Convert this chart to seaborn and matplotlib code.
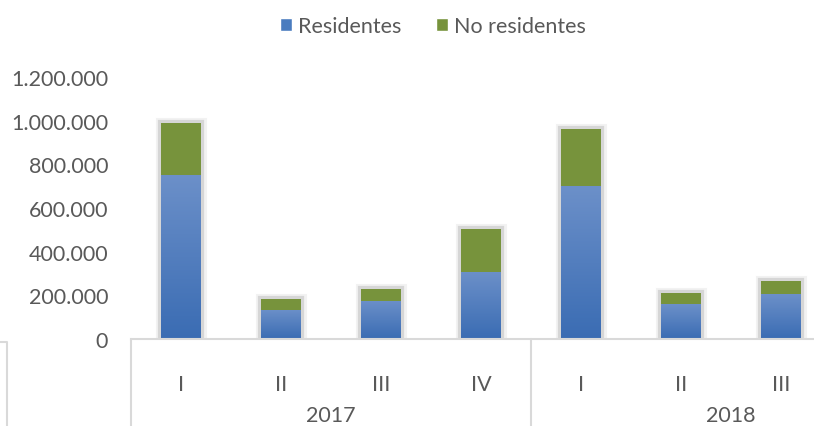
import numpy as np
import pandas as pd
import matplotlib
matplotlib.use("Agg")
import matplotlib.pyplot as plt
import matplotlib.patheffects as pe
from matplotlib.lines import Line2D
from matplotlib.patches import Patch
import matplotlib.transforms as mtransforms
import seaborn as sns

# Quarterly visitors, split by residence
years = ["2017", "2017", "2017", "2017", "2018", "2018", "2018"]
quarters = ["I", "II", "III", "IV", "I", "II", "III"]
residentes = [752000, 133000, 175000, 308000, 699000, 160000, 206000]
no_residentes = [237000, 50000, 54000, 195000, 262000, 51000, 59000]

yticks = [0, 200000, 400000, 600000, 800000, 1000000, 1200000]

BLUE = "#4a7cbf"
BLUE_TOP = "#6c90c9"
BLUE_BOTTOM = "#3a6cb3"
GREEN = "#77933c"
TEXT = "#595959"
AXIS = "#d9d9d9"
FS = 15.5

sns.set_theme(style="white")
plt.rcParams["font.family"] = ["Lato", "DejaVu Sans"]

keys = [f"{y}-{q}" for y, q in zip(years, quarters)]
df = pd.DataFrame({
    "periodo": keys,
    "Residentes": residentes,
    "No residentes": no_residentes,
})
df["total"] = df["Residentes"] + df["No residentes"]

W, H = 814, 427
fig = plt.figure(figsize=(W / 100, H / 100), dpi=100)
ax = fig.add_axes([131 / W, (H - 340) / H, 1 - 131 / W, (340 - 78) / H])

shadow = [pe.Stroke(linewidth=8, foreground="#f2f2f2"),
          pe.Stroke(linewidth=4.5, foreground="#d6d6d6"),
          pe.Normal()]

# Totals first (green), residents stacked at the bottom (blue)
sns.barplot(data=df, x="periodo", y="total", order=keys, color=GREEN,
            saturation=1, width=0.4, ax=ax, linewidth=0)
n_green = len(ax.patches)
sns.barplot(data=df, x="periodo", y="Residentes", order=keys, color=BLUE,
            saturation=1, width=0.4, ax=ax, linewidth=0)

for p in ax.patches[:n_green]:
    p.set_path_effects(shadow)

# Vertical gradient on the resident segments
grad = np.linspace(0, 1, 256).reshape(-1, 1)
cmap = matplotlib.colors.LinearSegmentedColormap.from_list("g", [BLUE_BOTTOM, BLUE_TOP])
for p in ax.patches[n_green:]:
    x0, y0 = p.get_x(), p.get_y()
    w, h = p.get_width(), p.get_height()
    im = ax.imshow(grad, cmap=cmap, aspect="auto", origin="lower",
                   extent=(x0, x0 + w, y0, y0 + h), zorder=p.get_zorder() + 0.1)
    im.set_clip_path(p)

ax.set_xlim(-0.5, 6.33)
ax.set_ylim(0, 1200000)
ax.set_yticks(yticks)
ax.set_yticklabels([f"{v:,}".replace(",", ".") for v in yticks],
                   color=TEXT, fontsize=FS)
ax.tick_params(axis="y", length=0, pad=16.5)
ax.set_xticks(range(len(keys)))
ax.set_xticklabels(quarters, color=TEXT, fontsize=FS)
ax.tick_params(axis="x", length=0, pad=25)
ax.set_xlabel("")
ax.set_ylabel("")

for s in ["top", "right", "left"]:
    ax.spines[s].set_visible(False)
ax.spines["bottom"].set_color(AXIS)
ax.spines["bottom"].set_linewidth(1.5)

# Year groups and separators below the axis
trans = mtransforms.blended_transform_factory(ax.transData, ax.transAxes)
depth = -(427 - 340) / (340 - 78)
for xs in [-0.5, 3.5]:
    ax.add_line(Line2D([xs, xs], [0, depth], transform=trans, color=AXIS,
                       lw=1.5, clip_on=False))
year_labels = ["2017", "2018"]
year_centers = [1.5, 5.5]
for yl, xc in zip(year_labels, year_centers):
    ax.text(xc, -(416 - 340) / (340 - 78), yl, transform=trans, ha="center",
            va="center", color=TEXT, fontsize=FS)

# Frame corner at the lower left
fig.add_artist(Line2D([0, 7 / W, 7 / W], [(H - 343) / H, (H - 343) / H, 0],
                      transform=fig.transFigure, color=AXIS, lw=1.5))

handles = [Patch(facecolor=BLUE, label="Residentes"),
           Patch(facecolor=GREEN, label="No residentes")]
leg = fig.legend(handles=handles, loc="center", bbox_to_anchor=(433 / W, 1 - 27 / H),
                 ncol=2, frameon=False, fontsize=FS, handlelength=0.55,
                 handleheight=0.55, handletextpad=0.3, columnspacing=1.6)
for t in leg.get_texts():
    t.set_color(TEXT)

fig.savefig("out.png", dpi=100, facecolor="white")
